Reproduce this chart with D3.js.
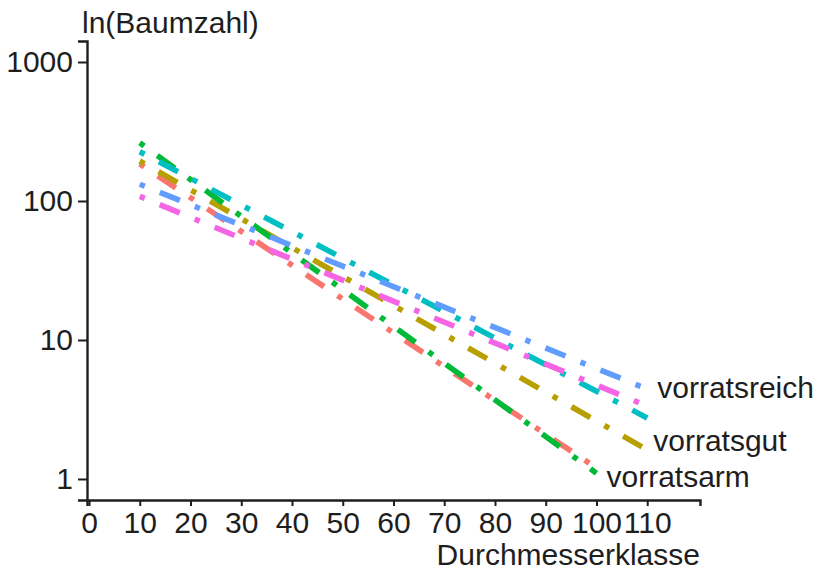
<!DOCTYPE html>
<html>
<head>
<meta charset="utf-8">
<script src="https://cdn.jsdelivr.net/npm/d3@7"></script>
<style>
  body { margin: 0; background: #fff; }
  svg { display: block; font-family: "Liberation Sans", Arial, sans-serif; }
</style>
</head>
<body>
<div id="chart"></div>
<script>
  // one row per fitted line, ordered like the ggplot groups
  var colours = ["#F8766D", "#B79F00", "#00BA38", "#00BFC4", "#619CFF", "#F564E3"];
  var xStart = [10, 10, 10, 10, 10, 10];
  var xEnd   = [100, 110, 100, 110, 110, 110];
  var nStart = [185, 194, 262, 226, 132, 108];
  var nEnd   = [1.2, 1.62, 1.1, 2.75, 4.44, 3.35];

  var labelText   = ["vorratsarm", "vorratsgut", "vorratsreich"];
  var labelSeries = [2, 1, 4];

  var xTicks = [0, 10, 20, 30, 40, 50, 60, 70, 80, 90, 100, 110];
  var yTicks = [1, 10, 100, 1000];

  var width = 818,
      height = 571,
      margin = {top: 41, right: 118, bottom: 71, left: 87},
      w = width - margin.left - margin.right,
      h = height - margin.top - margin.bottom,
      ink = "#1e1e1e";

  var lines = colours.map(function(c, i) {
    return {colour: c, pts: [[xStart[i], nStart[i]], [xEnd[i], nEnd[i]]]};
  });

  var x = d3.scaleLinear().domain([-0.4, 120.4]).range([0, w]);
  var y = d3.scaleLog().domain([0.706, 1416]).range([h, 0]);

  var svg = d3.select("#chart").append("svg")
      .attr("width", width)
      .attr("height", height);

  var g = svg.append("g")
      .attr("transform", "translate(" + margin.left + "," + margin.top + ")");

  // lines, dot-dash like ggplot's "dotdash" (1343)
  var u = 5.4;
  var line = d3.line()
      .x(function(d) { return x(d[0]); })
      .y(function(d) { return y(d[1]); });

  g.selectAll(".fit")
    .data(lines)
    .enter().append("path")
      .attr("class", "fit")
      .attr("d", function(d) { return line(d.pts); })
      .attr("fill", "none")
      .attr("stroke", function(d) { return d.colour; })
      .attr("stroke-width", 5.6)
      .attr("stroke-linecap", "butt")
      .attr("stroke-dasharray", [1 * u, 3 * u, 4 * u, 3 * u].join(","));

  // axes
  var xAxis = g.append("g")
      .attr("transform", "translate(0," + h + ")")
      .call(d3.axisBottom(x).tickValues(xTicks).tickSizeOuter(0).tickSize(6).tickPadding(6));

  var yAxis = g.append("g")
      .call(d3.axisLeft(y).tickValues(yTicks).tickFormat(d3.format("d"))
        .tickSizeOuter(0).tickSize(9).tickPadding(5));

  [xAxis, yAxis].forEach(function(a) {
    a.select(".domain").attr("stroke", ink).attr("stroke-width", 2.4);
    a.selectAll(".tick line").attr("stroke", ink).attr("stroke-width", 2);
    a.selectAll(".tick text")
      .attr("fill", ink)
      .style("font-size", "30px");
  });

  // titles
  svg.append("text")
    .attr("x", 82)
    .attr("y", 33)
    .attr("fill", ink)
    .style("font-size", "30px")
    .text("ln(Baumzahl)");

  svg.append("text")
    .attr("x", margin.left + w)
    .attr("y", 565)
    .attr("text-anchor", "end")
    .attr("fill", ink)
    .style("font-size", "30px")
    .text("Durchmesserklasse");

  // group labels next to line ends
  var offs = [[10, 14], [6, 1], [10, 9]];
  g.selectAll(".lab")
    .data(labelText)
    .enter().append("text")
      .attr("class", "lab")
      .attr("x", function(d, i) { return x(xEnd[labelSeries[i]]) + offs[i][0]; })
      .attr("y", function(d, i) { return y(nEnd[labelSeries[i]]) + offs[i][1]; })
      .attr("fill", ink)
      .style("font-size", "30px")
      .text(function(d) { return d; });
</script>
</body>
</html>
